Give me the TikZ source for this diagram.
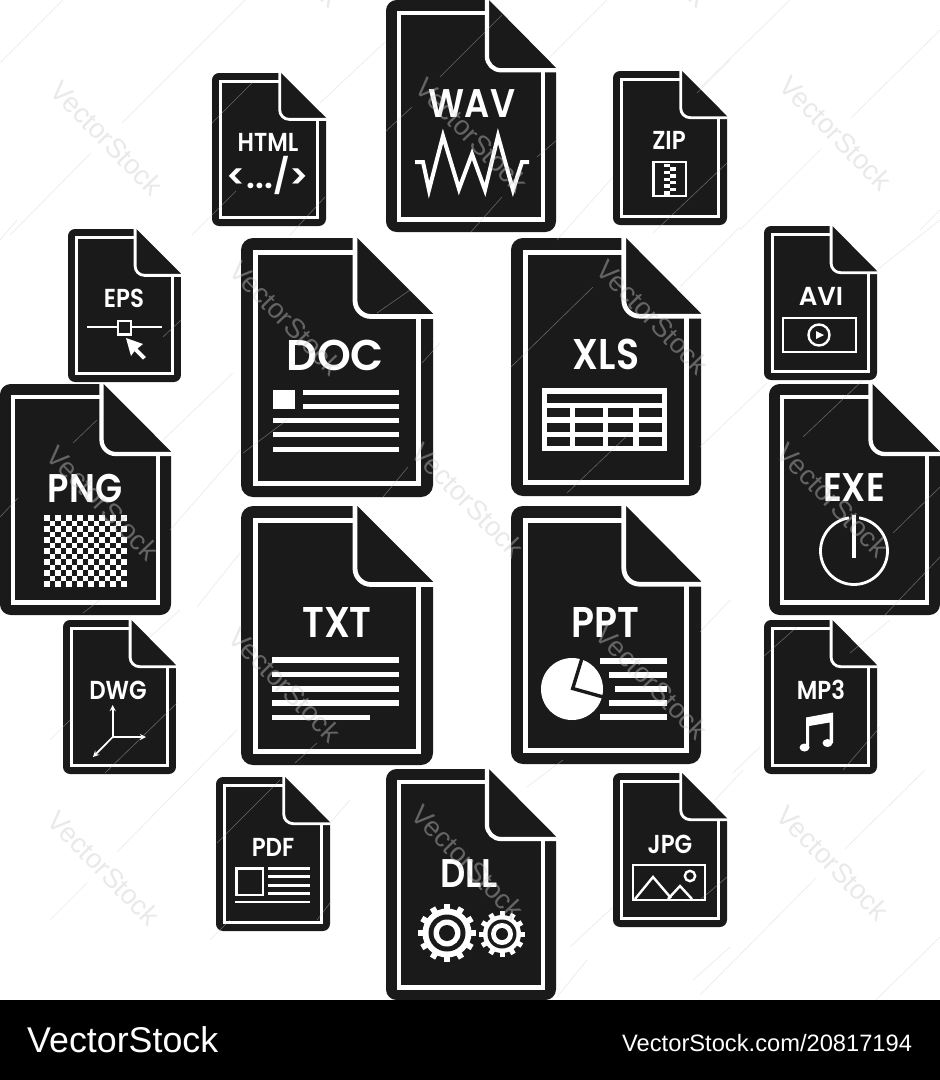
\documentclass[tikz,border=0pt]{standalone}
\usepackage{fontspec}
\usepackage{xcolor}
\usetikzlibrary{arrows,positioning}
\setmainfont{Liberation Sans}
\newfontfamily\tagfont{Poppins SemiBold}
\definecolor{sheetink}{RGB}{26,26,26}
\definecolor{stockgrey}{RGB}{204,204,204}

% one file sheet: x, y, width, height
\newcommand{\filesheet}[4]{
\begin{scope}[shift={(#1,#2)},xscale=#3/192,yscale=#4/259]
\fill[sheetink] (60,0) -- (116.3,0) -- (192,75.7) [rounded corners=#3/16*1pt] -- (192,259) -- (0,259) -- (0,0) -- cycle;
\draw[white,line width=#3/192*4.8pt,rounded corners=#3/12*1pt] (114,-1) -- (114,78.5) -- (193,78.5);
\draw[white,line width=#3/192*5pt] (114,14.7) -- (14.5,14.7) -- (14.5,245) -- (177.5,245) -- (177.5,78.5);
\end{scope}
}
% one gear: x, y, tip radius, root radius, hole radius, ring radius, eye radius, tooth width
\newcommand{\gearwheel}[8]{
\begin{scope}[shift={(#1,#2)}]
\foreach \a in {0,30,...,330}
  \draw[white,line width=#8pt] (\a:#4-1) -- (\a:#3);
\fill[white] (0,0) circle (#4);
\fill[sheetink] (0,0) circle (#5);
\fill[white] (0,0) circle (#6);
\fill[sheetink] (0,0) circle (#7);
\end{scope}
}

\begin{document}
\begin{tikzpicture}[x=1pt,y=-1pt,
    tagbig/.style={text=white, inner sep=0pt, font=\tagfont\fontsize{43}{43}\selectfont},
    tagmid/.style={text=white, inner sep=0pt, font=\tagfont\fontsize{40}{40}\selectfont},
    tagsmall/.style={text=white, inner sep=0pt, font=\tagfont\fontsize{26}{26}\selectfont},
    narrow/.style={xscale=0.88, transform shape},
    rule/.style={white, line width=2.7pt},
    bar/.style={fill=white},
    stocktext/.style={text=stockgrey, text opacity=0.42, inner sep=0pt, rotate=-46, font=\fontsize{27.5}{27.5}\selectfont},
    stockline/.style={stockgrey, opacity=0.42, line width=0.6pt},
    bandtext/.style={text=white, inner sep=0pt, anchor=west}
]
\useasboundingbox (0,0) rectangle (940,1080);
\clip (0,0) rectangle (940,1080);
\fill[white] (0,0) rectangle (940,1080);

% Sheets
\filesheet{386}{0}{170}{232}
\filesheet{212}{73}{114}{153}
\filesheet{613}{71}{114}{154}
\filesheet{68}{229}{113}{153}
\filesheet{241}{238}{192}{259}
\filesheet{511}{238}{190}{258}
\filesheet{764}{226}{113}{154}
\filesheet{0}{384}{171}{231}
\filesheet{769}{384}{171}{231}
\filesheet{241}{506}{192}{259}
\filesheet{511}{506}{190}{258}
\filesheet{63}{620}{113}{154}
\filesheet{764}{620}{113}{154}
\filesheet{216}{777}{114}{154}
\filesheet{386}{769}{170}{231}
\filesheet{613}{773}{114}{154}

% WAV
\node[tagmid, narrow] (wav) at (472,104) {WAV};
\draw[white, line width=4pt, miter limit=8] (415,162) -- (423,162) -- (429,190) -- (443,136) -- (459,189) -- (472,154) -- (485,190) -- (498,136) -- (513,190) -- (522,162) -- (529,162);

% HTML
\node[tagsmall, narrow] (html) at (268,142) {HTML};
\node[tagsmall, font=\tagfont\fontsize{34}{34}\selectfont] (htmlcode) at (268,175) {<.../>};

% ZIP
\node[tagsmall, narrow] (zip) at (669,140) {ZIP};
\draw[rule] (653.5,162) rectangle (686,196);
\foreach \i in {0,...,8} {
  \ifodd\i
    \fill[white] (670,164+\i*3.4) rectangle ++(6,3.4);
  \else
    \fill[white] (663.5,164+\i*3.4) rectangle ++(6.5,3.4);
  \fi
}

% EPS
\node[tagsmall, narrow] (eps) at (124,298) {EPS};
\draw[white, line width=2.4pt] (87,327) -- (162,327);
\draw[white, fill=sheetink, line width=2.4pt] (118,321) rectangle (131,334.5);
\fill[white] (126,338) -- (143,344) -- (137.5,348.5) -- (146,357) -- (143,359.5) -- (134.5,351) -- (131,356) -- cycle;

% DOC
\node[tagbig] (doc) at (335,355) {DOC};
\fill[bar] (273,390) rectangle (295,409);
\fill[bar] (303,390) rectangle (399,395);
\fill[bar] (303,404) rectangle (399,409);
\foreach \y in {418,432,447}
  \fill[bar] (273,\y) rectangle (399,\y+5.3);

% XLS
\node[tagbig, narrow] (xls) at (606,354) {XLS};
\fill[bar] (542,388) rectangle (667,451);
\fill[sheetink] (547,394) rectangle (662,403);
\foreach \y/\v in {408/417,423/431.5,437/446}
  \foreach \x/\u in {547/570,575/603,608/633,639/662}
    \fill[sheetink] (\x,\y) rectangle (\u,\v);

% AVI
\node[tagsmall] (avi) at (821,296) {AVI};
\draw[rule] (783,318) rectangle (856,352);
\draw[white, line width=2.4pt] (819,335) circle (10.5);
\fill[white] (816,331) -- (824,335) -- (816,339) -- cycle;

% PNG
\node[tagmid, narrow] (png) at (85,488) {PNG};
\foreach \i in {0,...,14} {
  \foreach \j in {0,...,12} {
    \ifodd\numexpr\i+\j\relax\else
      \fill[white] (44+\i*5.53,515+\j*5.54) rectangle ++(5.53,5.54);
    \fi
  }
}

% EXE
\node[tagmid, narrow] (exe) at (854,488) {EXE};
\draw[white, line width=2.8pt] (854,551) circle (33.5);
\draw[sheetink, line width=10pt] (854,512) -- (854,526);
\draw[white, line width=3.6pt] (854,515) -- (854,558);

% TXT
\node[tagbig, narrow] (txt) at (337,622) {TXT};
\foreach \y/\u in {657/399,671.5/399,686/399,700/399,714.5/370}
  \fill[bar] (272,\y) rectangle (\u,\y+5.5);

% PPT
\node[tagbig, narrow] (ppt) at (605,622) {PPT};
\fill[white] (572,689) circle (31);
\draw[sheetink, line width=3.4pt] (582.5,656.5) -- (572.7,688.5) -- (605,697.5);
\foreach \y/\x in {658/600,672/609,686/615,700/609,714/600}
  \fill[bar] (\x,\y) rectangle (667,\y+5.6);

% DWG
\node[tagsmall, narrow] (dwg) at (118,690) {DWG};
\draw[white, line width=1.7pt, ->, >=stealth] (112.7,737) -- (112.7,705);
\draw[white, line width=1.7pt, ->, >=stealth] (112.7,737) -- (146,737);
\draw[white, line width=1.7pt, ->, >=stealth] (112.7,737) -- (93,757);

% MP3
\node[tagsmall, narrow] (mp3) at (821,690) {MP3};
\fill[white] (806,717.5) -- (833,712.5) -- (833,743) -- (829.5,743) -- (829.5,722.5) -- (809,726) -- (809,747.5) -- (806,747.5) -- cycle;
\fill[white] (804.5,747.5) ellipse (5 and 4);
\fill[white] (827.5,743) ellipse (5 and 4);

% PDF
\node[tagsmall, narrow] (pdf) at (273,847) {PDF};
\draw[rule] (236.3,868.3) rectangle (263,895);
\foreach \y in {868.3,876.7,885.3,893.7}
  \draw[white, line width=2.8pt] (268,\y) -- (310,\y);
\draw[white, line width=2.8pt] (235,902) -- (310,902);

% DLL
\node[tagmid, narrow] (dll) at (469,874) {DLL};
\gearwheel{447}{933}{29}{24.5}{18.5}{13.5}{8}{6}
\gearwheel{502}{934}{23}{19}{14.5}{11}{6}{5}

% JPG
\node[tagsmall, narrow] (jpg) at (670,844) {JPG};
\draw[rule] (633,865) rectangle (705,900);
\draw[white, line width=2.4pt] (635,899) -- (653,877) -- (671,898);
\draw[white, line width=2.4pt] (668,899) -- (680,886) -- (692,899);
\draw[white, line width=2.4pt] (690,876) circle (5.2);

% Stock lines
\foreach \xa/\ya/\xb/\yb in {0/63/63/0,122/123/245/0,10/235/91/153,192/235/236/191,212/123/253/82,320/103/385/42,290/235/325/197,
  440/77/502/15,550/57/607/0,385/132/412/107,537/157/557/140,557/240/613/177,470/233/502/197,697/93/730/60,653/233/727/163,
  700/88/790/0,851/118/940/30,740/230/821/149,920/230/940/210,
  0/517/18/498,0/240/17/220,73/443/97/420,163/337/181/320,163/440/233/373,83/613/100/600,170/530/240/450,197/607/240/553,383/497/408/467,377/313/410/290,243/453/287/420,422/363/440/343,
  510/368/593/287,680/287/740/227,567/493/630/433,700/447/767/383,803/437/863/380,893/533/940/487,877/270/940/220,883/617/940/557,
  117/852/237/730,50/920/87/883,105/773/177/703,50/740/70/720,150/637/180/610,217/843/280/780,295/763/317/743,317/920/330/903,210/940/230/920,330/823/350/800,
  700/632/730/600,850/653/890/620,733/773/760/747,763/657/797/627,843/770/880/727,
  715/800/743/770,845/849/925/770,700/995/816/878,876/1000/940/937,700/900/727/877,
  693/980/730/947,557/997/587/960,527/787/563/760,570/947/613/907}
  \draw[stockline] (\xa,\ya) -- (\xb,\yb);

% Stock marks
\foreach \x/\y in {107/138,836/133,472/135,286/318,653/317,468/500,103/503,833/500,285/685,652/682,104/868,468/862,833/863,285/-50,653/-50}
  \node[stocktext] (stock\x\y) at (\x,\y) {VectorStock};

% Band
\fill[black] (0,1000) rectangle (940,1080);
\node[bandtext, font=\fontsize{35.8}{35.8}\selectfont] (bandname) at (27,1040) {VectorStock};
\node[bandtext, font=\fontsize{23.7}{23.7}\selectfont] (bandid) at (622,1043) {VectorStock.com/20817194};

\end{tikzpicture}
\end{document}
